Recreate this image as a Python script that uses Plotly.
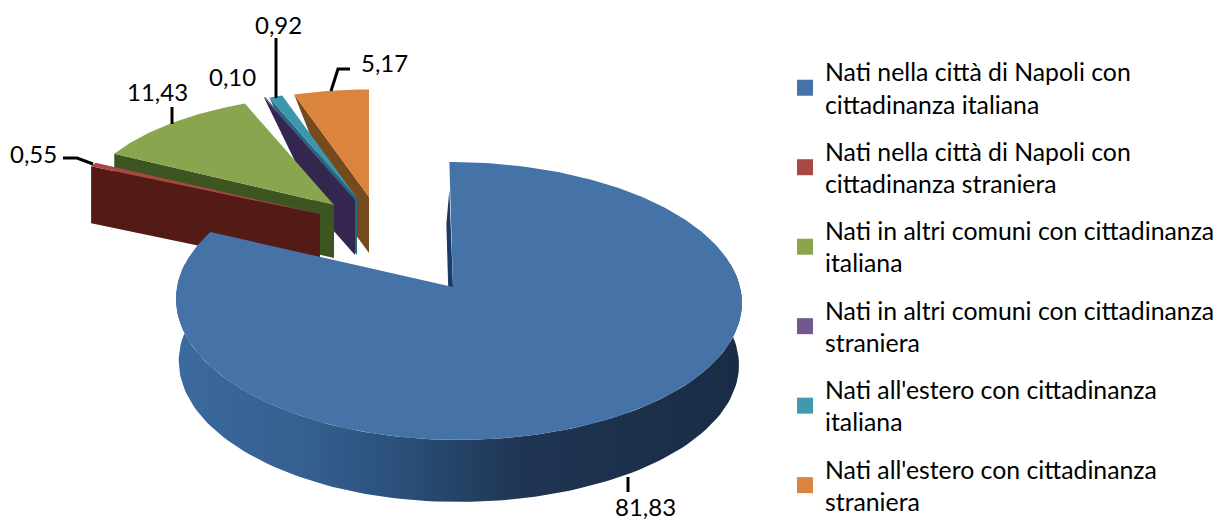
import numpy as np
import plotly.graph_objects as go

WIDTH = 1218
HEIGHT = 522
FONT = "Lato"

categories = [
    "Nati nella città di Napoli con<br>cittadinanza italiana",
    "Nati nella città di Napoli con<br>cittadinanza straniera",
    "Nati in altri comuni con cittadinanza<br>italiana",
    "Nati in altri comuni con cittadinanza<br>straniera",
    "Nati all'estero con cittadinanza<br>italiana",
    "Nati all'estero con cittadinanza<br>straniera",
]
values = [81.83, 0.55, 11.43, 0.10, 0.92, 5.17]

top_colors = ["#4572a7", "#aa4643", "#89a54e", "#5b4a8a", "#3d96ae", "#db843d"]
legend_colors = ["#4572a7", "#aa4643", "#89a54e", "#71588f", "#4198af", "#db843d"]
wall_colors = ["#1f3552", "#541a16", "#3d5520", "#35264f", "#1f6b7f", "#754a1c"]

# apex x, apex y, scale x, scale y, depth, how far the lower rim closes on the apex
slice_geometry = [
    (453, 287, 1.00, 1.00, 62, 1.00),
    (320, 214, 0.95, 0.87, 57, 1.00),
    (334, 205, 0.93, 0.87, 53, 1.00),
    (355, 200, 0.95, 0.88, 55, 0.35),
    (357, 198, 0.93, 0.86, 57, 0.35),
    (369, 197, 0.93, 0.86, 56, 0.35),
]

# label centre x, y and leader line per slice
label_positions = [(645, 506), (33, 153), (157, 91), (232, 76), (278, 24), (384, 62)]
leader_x = [[628, 628], [63, 77, 93], [172, 172], [], [276, 276], [350, 338, 331]]
leader_y = [[477, 492], [158, 158, 164], [107, 124], [], [38, 98], [69, 69, 91]]

RX_LEFT = 276
RX_RIGHT = 287
RY = 137.6
PERSPECTIVE = 0.1


def ring_offset(theta_deg, skew=0.0, sx=1.0, sy=1.0):
    t = np.radians(theta_deg)
    u, v = np.sin(t), np.cos(t)
    s = 1 / (1 + PERSPECTIVE * v)
    rx = np.where(u > 0, RX_RIGHT, RX_LEFT)
    return (rx * u - skew * v) * s * sx, -RY * v * s * sy


def add_poly(fig, xs, ys, color=None, gradient=None):
    kw = dict(fillgradient=gradient) if gradient else dict(fillcolor=color)
    fig.add_trace(
        go.Scatter(
            x=xs,
            y=ys,
            mode="lines",
            fill="toself",
            line=dict(width=0),
            showlegend=False,
            hoverinfo="skip",
            **kw,
        )
    )


def add_exploded_slice(fig, i, start, end):
    ax, ay, sx, sy, depth, close = slice_geometry[i]
    # side wall along the first edge of the slice
    dx, dy = ring_offset(start, 0, sx, sy)
    wall_x = [ax + dx, ax, ax, ax + dx * close]
    wall_y = [ay + dy, ay, ay + depth, ay + depth + dy * close]
    add_poly(fig, wall_x, wall_y, wall_colors[i])
    # top face
    th = np.linspace(start, end, 40)
    dx, dy = ring_offset(th, 0, sx, sy)
    add_poly(fig, np.r_[ax, ax + dx], np.r_[ay, ay + dy], top_colors[i])


def add_main_slice(fig, end):
    ax, ay, sx, sy, depth, _ = slice_geometry[0]
    # inner wall seen through the gap, at 12 o'clock
    dx, dy = ring_offset(0.0, 4)
    add_poly(
        fig,
        [ax + dx, ax, ax - 3, ax + dx - 3],
        [ay + dy + 28, ay, ay + depth, ay + dy + depth],
        "#1b3a66",
    )
    # outer wall
    th = np.linspace(80, 280, 120)
    dx, dy = ring_offset(th, 4)
    add_poly(
        fig,
        np.r_[ax + dx, (ax + dx * 0.99)[::-1]],
        np.r_[ay + dy, (ay + dy + depth)[::-1]],
        gradient=dict(
            type="horizontal",
            colorscale=[
                [0, "#3b6a9f"],
                [0.22, "#356090"],
                [0.36, "#2c5480"],
                [0.61, "#1f3552"],
                [1, "#1a2c44"],
            ],
        ),
    )
    th = np.linspace(0, end, 300)
    dx, dy = ring_offset(th, 4)
    add_poly(fig, np.r_[ax, ax + dx], np.r_[ay, ay + dy], top_colors[0])


edges = np.cumsum([0] + values)
edges = edges / edges[-1] * 360

fig = go.Figure()

# painter's order, back slices first, main slice last
for i in [5, 4, 3, 2, 1]:
    add_exploded_slice(fig, i, edges[i], edges[i + 1])
add_main_slice(fig, edges[1])

for xs, ys in zip(leader_x, leader_y):
    if xs:
        fig.add_trace(
            go.Scatter(
                x=xs,
                y=ys,
                mode="lines",
                line=dict(color="#000000", width=3),
                showlegend=False,
                hoverinfo="skip",
            )
        )

for value, (lx, ly) in zip(values, label_positions):
    fig.add_annotation(
        x=lx,
        y=ly,
        text=f"{value:.2f}".replace(".", ","),
        showarrow=False,
        xanchor="center",
        yanchor="middle",
        font=dict(family=FONT, size=24, color="#000000"),
    )

for i, name in enumerate(categories):
    fig.add_trace(
        go.Scatter(
            x=[None],
            y=[None],
            mode="markers",
            name=name,
            legendgroup=str(i),
            marker=dict(symbol="square", size=16, color=legend_colors[i]),
        )
    )

fig.update_xaxes(range=[0, WIDTH], visible=False, fixedrange=True)
fig.update_yaxes(range=[HEIGHT, 0], visible=False, fixedrange=True)
fig.update_layout(
    width=WIDTH,
    height=HEIGHT,
    margin=dict(l=0, r=0, t=0, b=0, autoexpand=False),
    paper_bgcolor="#ffffff",
    plot_bgcolor="#ffffff",
    font=dict(family=FONT, size=24.8, color="#000000"),
    legend=dict(
        x=785 / WIDTH,
        y=1 - 49 / HEIGHT,
        xanchor="left",
        yanchor="top",
        tracegroupgap=12,
        itemwidth=30,
        bgcolor="rgba(0,0,0,0)",
    ),
)

# the page's default body margin would push the chart off the window
fig.write_html(
    "out.html",
    config=dict(displayModeBar=False),
    post_script="document.body.style.margin = '0';",
)
